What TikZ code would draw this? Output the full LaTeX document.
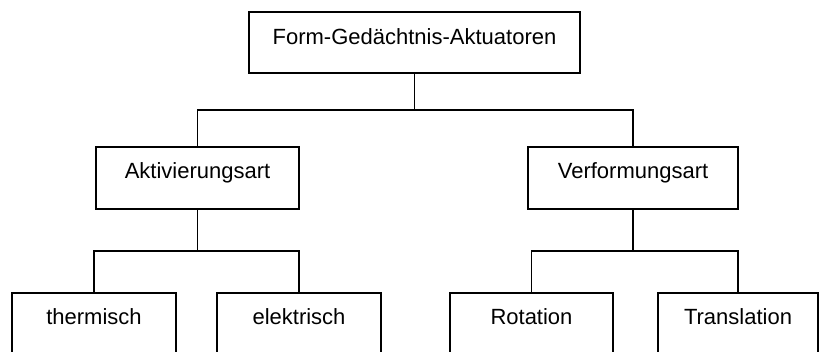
\documentclass[tikz,border=0pt]{standalone}
\usepackage{fontspec}
\setmainfont{Liberation Sans}
\begin{document}
\begin{tikzpicture}[x=1pt,y=-1pt,
  box/.style={draw, line width=1.8pt, inner sep=0pt, text height=32pt, text depth=30pt,
              font=\fontsize{22}{26}\selectfont},
  link/.style={line width=1.8pt}]
  \clip (0,0) rectangle (819,352);

  % root
  \node[box, minimum width=331pt, text height=33pt, text depth=28pt] (root) at (414.5,42.5) {Form-Gedächtnis-Aktuatoren};

  % second level
  \node[box, minimum width=203pt] (akt) at (197.5,178) {Aktivierungsart};
  \node[box, minimum width=210pt] (verf) at (633,178) {Verformungsart};

  % leaves
  \node[box, minimum width=164pt] (therm) at (94,324) {thermisch};
  \node[box, minimum width=164pt] (elek) at (299,324) {elektrisch};
  \node[box, minimum width=163pt] (rot) at (531.5,324) {Rotation};
  \node[box, minimum width=160pt] (trans) at (738,324) {Translation};

  % junction levels
  \coordinate (j0) at (0,110);
  \coordinate (j1) at (0,251);

  % connectors
  \draw[link] (root.south) -- (root.south |- j0);
  \draw[link] (akt.north) |- (root.south |- j0) -| (verf.north);
  \draw[link] (akt.south) -- (akt.south |- j1);
  \draw[link] (therm.north) |- (akt.south |- j1) -| (elek.north);
  \draw[link] (verf.south) -- (verf.south |- j1);
  \draw[link] (rot.north) |- (verf.south |- j1) -| (trans.north);
\end{tikzpicture}
\end{document}
